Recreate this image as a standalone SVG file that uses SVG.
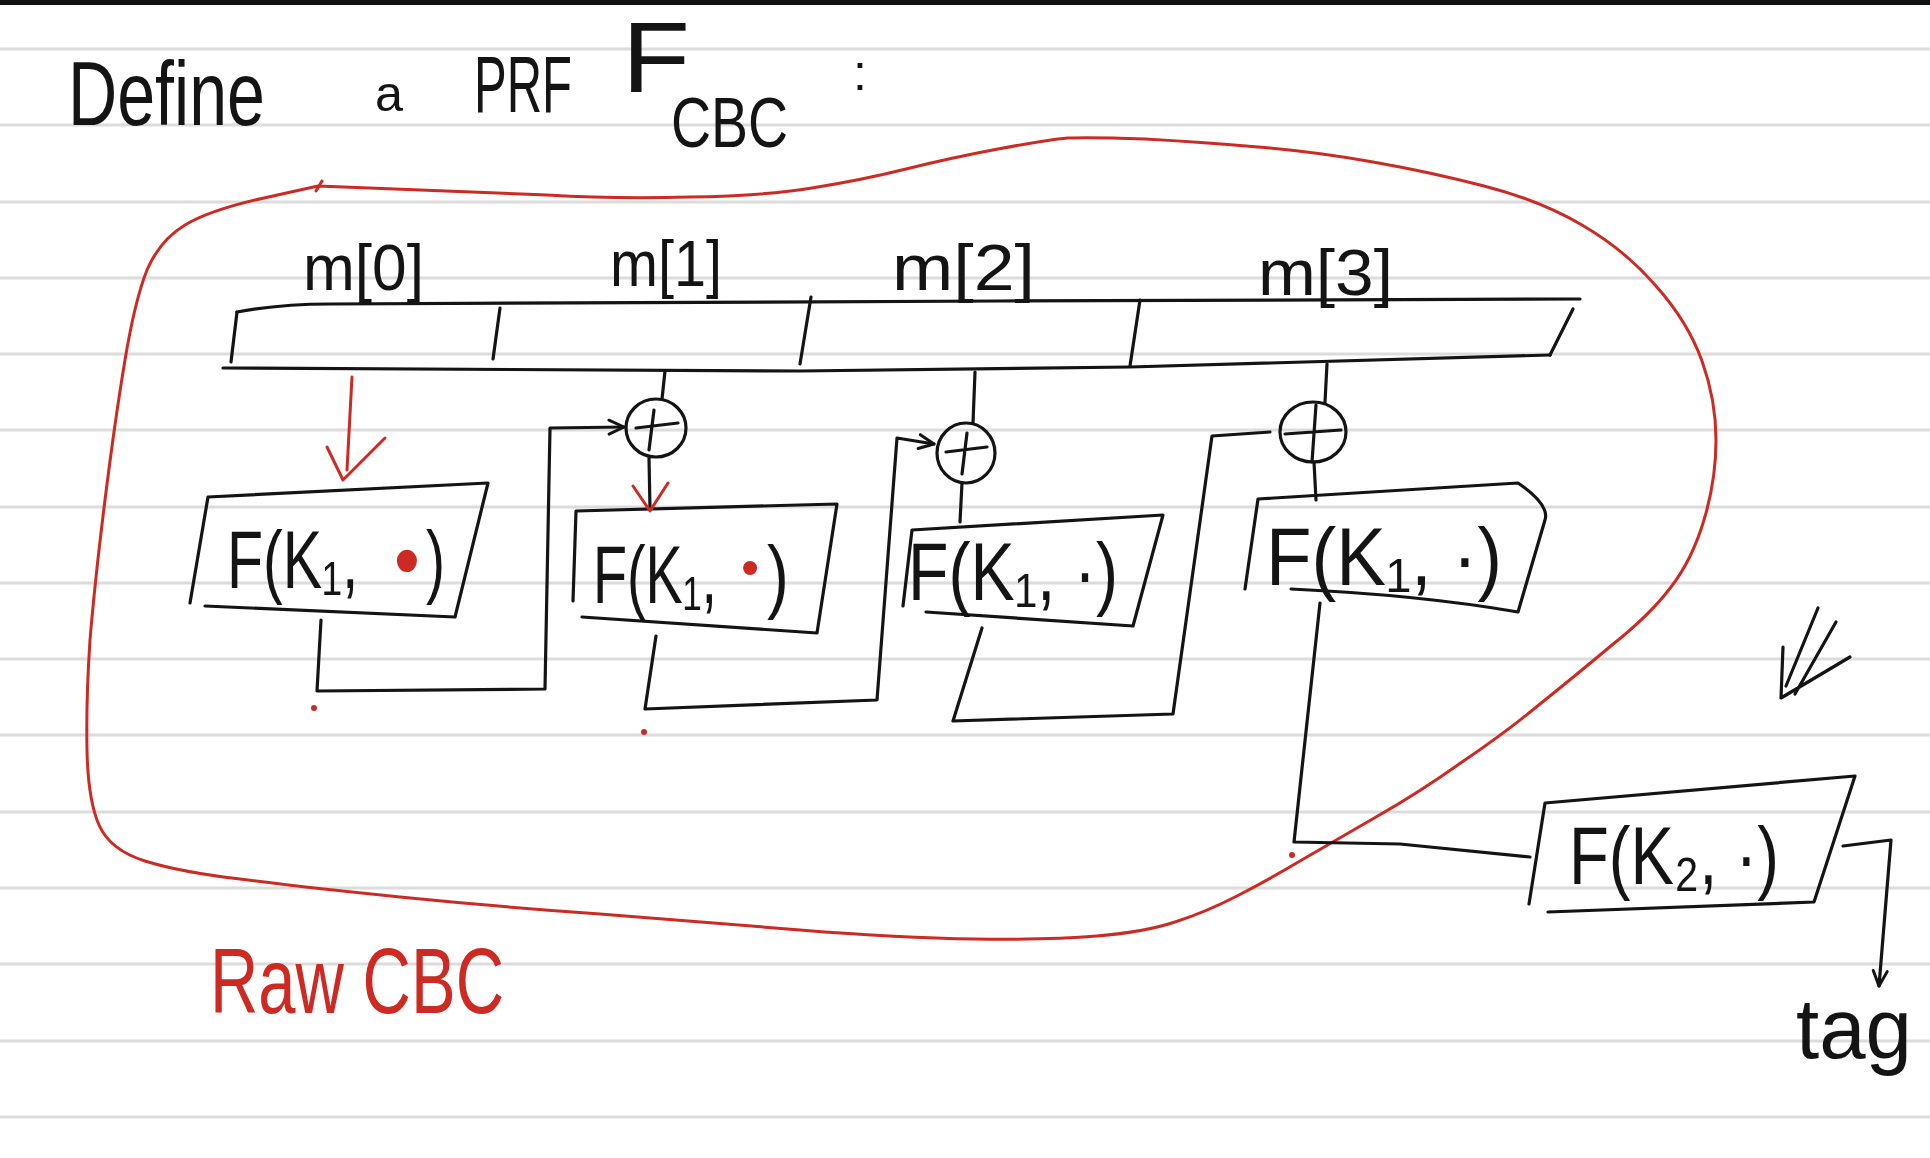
<svg xmlns="http://www.w3.org/2000/svg" width="1930" height="1158" viewBox="0 0 1930 1158">
<defs>
<style>
.rule{stroke:#dcdcdc;stroke-width:3}
.ink{fill:none;stroke:#141414;stroke-width:3.2;stroke-linecap:round;stroke-linejoin:round}
.red{fill:none;stroke:#cc2a22;stroke-width:3;stroke-linecap:round;stroke-linejoin:round}
.hw{font-family:"Liberation Sans","DejaVu Sans",Arial,sans-serif;fill:#141414}
.hwr{font-family:"Liberation Sans","DejaVu Sans",Arial,sans-serif;fill:#cc2a22}
.bt{font-size:82px}
</style>
<marker id="chev" viewBox="0 0 20 20" refX="18" refY="10" markerWidth="20" markerHeight="20" markerUnits="userSpaceOnUse" orient="auto">
<path d="M3,3 L18,10 L3,17" fill="none" stroke="#141414" stroke-width="3" stroke-linecap="round" stroke-linejoin="round"/>
</marker>
</defs>
<rect width="1930" height="1158" fill="#ffffff"/>
<rect x="0" y="0" width="1930" height="5" fill="#111111"/>
<g id="paper">
<line class="rule" x1="0" y1="49" x2="1930" y2="49"/>
<line class="rule" x1="0" y1="125" x2="1930" y2="125"/>
<line class="rule" x1="0" y1="202" x2="1930" y2="202"/>
<line class="rule" x1="0" y1="278" x2="1930" y2="278"/>
<line class="rule" x1="0" y1="354" x2="1930" y2="354"/>
<line class="rule" x1="0" y1="430" x2="1930" y2="430"/>
<line class="rule" x1="0" y1="507" x2="1930" y2="507"/>
<line class="rule" x1="0" y1="583" x2="1930" y2="583"/>
<line class="rule" x1="0" y1="659" x2="1930" y2="659"/>
<line class="rule" x1="0" y1="735" x2="1930" y2="735"/>
<line class="rule" x1="0" y1="812" x2="1930" y2="812"/>
<line class="rule" x1="0" y1="888" x2="1930" y2="888"/>
<line class="rule" x1="0" y1="964" x2="1930" y2="964"/>
<line class="rule" x1="0" y1="1041" x2="1930" y2="1041"/>
<line class="rule" x1="0" y1="1117" x2="1930" y2="1117"/>
</g>
<g id="title">
<text class="hw" x="68" y="125" font-size="90" textLength="197" lengthAdjust="spacingAndGlyphs">Define</text>
<text class="hw" x="375" y="111" font-size="50" textLength="28" lengthAdjust="spacingAndGlyphs">a</text>
<text class="hw" x="474" y="112" font-size="80" textLength="98" lengthAdjust="spacingAndGlyphs">PRF</text>
<text class="hw" x="622" y="92" font-size="100" textLength="68" lengthAdjust="spacingAndGlyphs">F</text>
<text class="hw" x="671" y="147" font-size="70" textLength="117" lengthAdjust="spacingAndGlyphs">CBC</text>
<text class="hw" x="853" y="90" font-size="50">:</text>
</g>
<g id="enclosure">
<path class="red" d="M 318,186 Q 480,192 547,195 Q 615,199 689,197 Q 763,196 812,188 Q 862,180 906,169 Q 950,158 998,149 Q 1046,140 1068,138 Q 1090,137 1145,139 Q 1200,142 1258,147 Q 1317,152 1373,162 Q 1430,172 1484,186 Q 1539,200 1582,225 Q 1625,250 1656,286 Q 1688,322 1702,361 Q 1716,400 1716,440 Q 1716,480 1704,520 Q 1692,560 1671,587 Q 1650,615 1612,645 Q 1575,676 1540,704 Q 1505,733 1462,762 Q 1420,792 1376,817 Q 1333,842 1300,861 Q 1268,880 1237,896 Q 1206,912 1175,922 Q 1145,932 1097,936 Q 1050,940 975,939 Q 900,938 800,930 Q 700,922 600,914 Q 500,907 400,897 Q 300,887 240,879 Q 180,872 145,861 Q 110,850 99,825 Q 88,800 87,750 Q 86,700 90,640 Q 95,580 105,500 Q 115,420 125,360 Q 135,300 147,270 Q 160,240 185,225 Q 210,210 264,198 L 318,186 M 316,191 L 322,181"/>
</g>
<g id="raw-cbc-label">
<text class="hwr" x="210" y="1013" font-size="92" textLength="294" lengthAdjust="spacingAndGlyphs">Raw CBC</text>
</g>
<g id="message-bar">
<path class="ink" d="M 237,312 Q 280,304 330,304 L 1000,301 L 1580,299"/>
<path class="ink" d="M 223,368 L 800,371 L 1130,367 L 1550,355"/>
<path class="ink" d="M 237,312 L 231,362"/>
<path class="ink" d="M 500,308 L 493,359"/>
<path class="ink" d="M 811,297 L 800,364"/>
<path class="ink" d="M 1140,300 L 1130,366"/>
<path class="ink" d="M 1573,309 L 1550,355"/>
</g>
<g id="label-m0"><text class="hw" x="303" y="290" font-size="64" textLength="121" lengthAdjust="spacingAndGlyphs">m[0]</text></g>
<g id="label-m1"><text class="hw" x="610" y="286" font-size="64" textLength="112" lengthAdjust="spacingAndGlyphs">m[1]</text></g>
<g id="label-m2"><text class="hw" x="892" y="290" font-size="64" textLength="143" lengthAdjust="spacingAndGlyphs">m[2]</text></g>
<g id="label-m3"><text class="hw" x="1258" y="295" font-size="64" textLength="135" lengthAdjust="spacingAndGlyphs">m[3]</text></g>
<g id="box1">
<path class="ink" d="M 190,603 L 208,497 L 488,483 L 455,617 L 205,606"/>
<text class="hw bt" transform="translate(227,588) scale(0.72,1)">F(K₁,</text>
<text class="hwr bt" transform="translate(394,588) scale(0.9,1)">•</text>
<text class="hw bt" transform="translate(426,588) scale(0.7,1)">)</text>
</g>
<g id="box2">
<path class="ink" d="M 573,601 L 576,511 L 837,504 L 817,633 L 582,617"/>
<text class="hw bt" transform="translate(593,603) scale(0.68,1)">F(K₁,</text>
<text class="hwr" font-size="52" transform="translate(741,585)">•</text>
<text class="hw bt" transform="translate(767,603) scale(0.8,1)">)</text>
</g>
<g id="box3">
<path class="ink" d="M 903,606 L 912,530 L 1163,515 L 1133,626 L 926,612"/>
<text class="hw bt" x="908" y="600" textLength="210" lengthAdjust="spacingAndGlyphs">F(K₁, ·)</text>
</g>
<g id="box4">
<path class="ink" d="M 1245,589 L 1258,499 L 1518,483 Q 1550,505 1545,520 L 1518,612 Q 1420,595 1291,589"/>
<text class="hw bt" x="1266" y="585" textLength="236" lengthAdjust="spacingAndGlyphs">F(K₁, ·)</text>
</g>
<g id="box5">
<path class="ink" d="M 1529,904 L 1545,803 L 1855,776 L 1814,902 L 1548,912"/>
<text class="hw bt" x="1569" y="884" textLength="210" lengthAdjust="spacingAndGlyphs">F(K₂, ·)</text>
</g>
<g id="xor1">
<ellipse class="ink" cx="656" cy="428" rx="30" ry="29"/>
<path class="ink" d="M 636,428 L 678,423 M 654,410 L 649,450"/>
</g>
<g id="xor2">
<ellipse class="ink" cx="966" cy="453" rx="29" ry="30"/>
<path class="ink" d="M 946,452 L 987,447 M 967,433 L 962,474"/>
</g>
<g id="xor3">
<ellipse class="ink" cx="1313" cy="432" rx="33" ry="30"/>
<path class="ink" d="M 1285,434 L 1341,430 M 1316,405 L 1312,462"/>
</g>
<g id="tag">
<text class="hw" x="1796" y="1058" font-size="86" textLength="116" lengthAdjust="spacingAndGlyphs">tag</text>
</g>
<g id="implies">
<path class="ink" d="M 1818,608 L 1786,686 M 1836,622 L 1795,694 M 1783,647 L 1781,698 L 1850,657"/>
</g>
<g id="connectors">
<path class="red" d="M 352,377 L 347,470" stroke-width="7"/>
<path class="red" d="M 327,447 L 343,480 L 385,438" stroke-width="3.5"/>
<path class="ink" d="M 665,371 L 662,399"/>
<path class="ink" d="M 649,458 L 650,509"/>
<path class="red" d="M 633,486 L 650,511 L 668,483" stroke-width="3.5"/>
<path class="ink" d="M 975,372 L 973,423"/>
<path class="ink" d="M 962,483 L 960,522"/>
<path class="ink" d="M 1327,364 L 1325,402"/>
<path class="ink" d="M 1314,462 L 1316,500"/>
<path class="ink" d="M 321,620 L 317,691 L 545,689 L 550,428 L 624,427" marker-end="url(#chev)"/>
<path class="ink" d="M 656,636 L 645,709 L 877,700 L 897,438 L 934,444" marker-end="url(#chev)"/>
<path class="ink" d="M 982,628 L 953,721 L 1173,714 L 1212,436 L 1270,432"/>
<path class="ink" d="M 1320,603 L 1294,842 L 1400,844 L 1530,857"/>
<path class="ink" d="M 1843,846 L 1891,840 L 1879,986" marker-end="url(#chev)"/>
<circle cx="314" cy="708" r="3" fill="#cc2a22"/>
<circle cx="644" cy="732" r="3" fill="#cc2a22"/>
<circle cx="1292" cy="855" r="3" fill="#cc2a22"/>
</g>
</svg>
